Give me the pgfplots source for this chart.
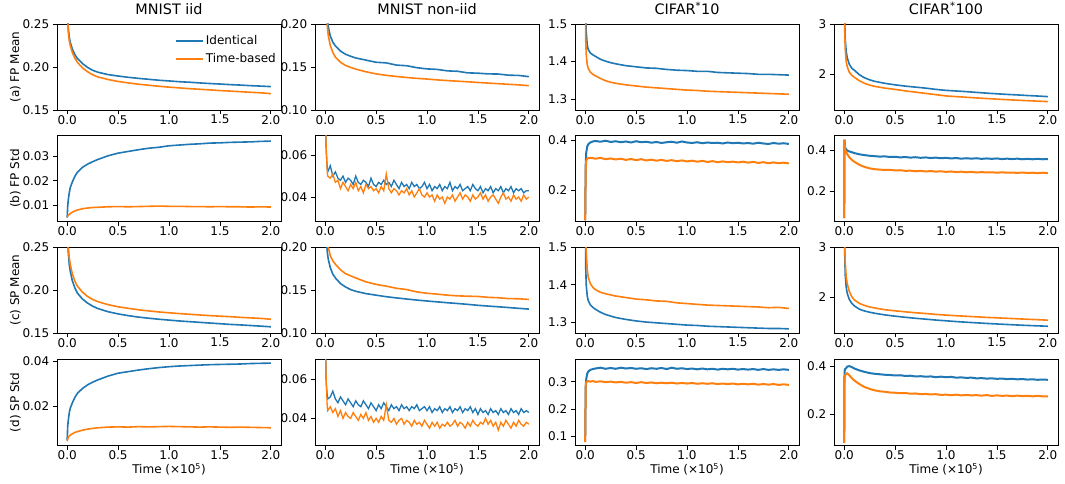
\documentclass[border=0pt]{standalone}
\usepackage{fontspec}
\setmainfont{DejaVu Sans}
\usepackage{pgfplots}
\usepackage{pgfplotstable}
\pgfplotsset{compat=1.18}
\definecolor{mblue}{HTML}{1F77B4}
\definecolor{morange}{HTML}{FF7F0E}

% ---------- Row 1: FP Mean ----------
\pgfplotstableread{
x b o
0 0.32 0.32
0.005 0.260 0.256
0.01 0.246 0.242
0.02 0.235 0.231
0.03 0.229 0.225
0.05 0.221 0.217
0.075 0.2145 0.2105
0.1 0.2100 0.2055
0.15 0.2040 0.1990
0.2 0.1995 0.1945
0.25 0.1962 0.1910
0.3 0.1940 0.1885
0.4 0.1912 0.1855
0.5 0.1895 0.1832
0.6 0.1880 0.1815
0.7 0.1868 0.1800
0.8 0.1857 0.1788
0.9 0.1846 0.1776
1.0 0.1838 0.1766
1.1 0.1829 0.1757
1.2 0.1823 0.1748
1.3 0.1815 0.1741
1.4 0.1808 0.1734
1.5 0.1802 0.1726
1.6 0.1795 0.1720
1.7 0.1790 0.1713
1.8 0.1783 0.1706
1.9 0.1778 0.1700
2.0 0.1772 0.1690
}\dataA
\pgfplotstableread{
x b o
0 0.30 0.30
0.005 0.26 0.245
0.01 0.235 0.22
0.02 0.207 0.198
0.03 0.197 0.187
0.05 0.186 0.175
0.075 0.179 0.167
0.1 0.1745 0.1615
0.15 0.1685 0.1555
0.2 0.1648 0.1518
0.25 0.1625 0.1495
0.3 0.1605 0.1475
0.4 0.1580 0.1445
0.5 0.1555 0.1420
0.6 0.1548 0.1403
0.7 0.1522 0.1390
0.8 0.1515 0.1378
0.9 0.1492 0.1368
1.0 0.1478 0.1360
1.1 0.1472 0.1350
1.2 0.1455 0.1342
1.3 0.1450 0.1335
1.4 0.1432 0.1328
1.5 0.1428 0.1320
1.6 0.1420 0.1313
1.7 0.1418 0.1306
1.8 0.1405 0.1299
1.9 0.1402 0.1292
2.0 0.1388 0.1283
}\dataB
\pgfplotstableread{
x b o
0 1.7 1.7
0.005 1.52 1.46
0.01 1.48 1.42
0.02 1.445 1.392
0.03 1.432 1.382
0.05 1.423 1.372
0.075 1.418 1.366
0.1 1.414 1.362
0.15 1.406 1.355
0.2 1.401 1.349
0.25 1.397 1.345
0.3 1.394 1.342
0.4 1.389 1.338
0.5 1.386 1.335
0.6 1.383 1.332
0.7 1.382 1.330
0.8 1.379 1.328
0.9 1.377 1.326
1.0 1.376 1.324
1.1 1.374 1.323
1.2 1.374 1.321
1.3 1.371 1.320
1.4 1.370 1.319
1.5 1.369 1.318
1.6 1.368 1.317
1.7 1.366 1.316
1.8 1.366 1.315
1.9 1.365 1.314
2.0 1.364 1.313
}\dataC
\pgfplotstableread{
x b o
0 4.0 4.0
0.005 3.1 2.9
0.01 2.7 2.5
0.02 2.45 2.25
0.03 2.33 2.15
0.05 2.20 2.04
0.075 2.12 1.98
0.1 2.08 1.94
0.15 1.99 1.87
0.2 1.93 1.82
0.25 1.89 1.785
0.3 1.86 1.76
0.4 1.82 1.725
0.5 1.79 1.70
0.6 1.765 1.670
0.7 1.745 1.645
0.8 1.725 1.620
0.9 1.700 1.595
1.0 1.680 1.570
1.1 1.668 1.556
1.2 1.655 1.543
1.3 1.640 1.530
1.4 1.625 1.518
1.5 1.612 1.506
1.6 1.600 1.495
1.7 1.590 1.485
1.8 1.578 1.475
1.9 1.568 1.466
2.0 1.556 1.457
}\dataD

% ---------- Row 2: FP Std ----------
\pgfplotstableread{
x b o
0 0.0050 0.0052
0.005 0.0095 0.0055
0.01 0.0120 0.0060
0.02 0.0150 0.0063
0.03 0.0172 0.0066
0.05 0.0195 0.0072
0.075 0.0218 0.0077
0.1 0.0235 0.0081
0.15 0.0255 0.0086
0.2 0.0268 0.0089
0.25 0.0278 0.0091
0.3 0.0287 0.0092
0.4 0.0302 0.0094
0.5 0.0313 0.0095
0.6 0.0320 0.0094
0.7 0.0327 0.0095
0.8 0.0333 0.0096
0.9 0.0337 0.0097
1.0 0.0343 0.0096
1.1 0.0346 0.0096
1.2 0.0349 0.0095
1.3 0.0351 0.0095
1.4 0.0354 0.0094
1.5 0.0355 0.0095
1.6 0.0357 0.0094
1.7 0.0358 0.0094
1.8 0.0359 0.0093
1.9 0.0361 0.0094
2.0 0.0362 0.0093
}\dataE
\pgfplotstableread{
x b o
0 0.090 0.085
0.01 0.062 0.064
0.02 0.054 0.052
0.025 0.052 0.050
0.05 0.055 0.049
0.075 0.050 0.051
0.1 0.052 0.047
0.125 0.049 0.048
0.15 0.048 0.044
0.175 0.050 0.047
0.2 0.047 0.045
0.225 0.049 0.043
0.25 0.048 0.046
0.275 0.046 0.044
0.3 0.050 0.047
0.325 0.047 0.043
0.35 0.046 0.045
0.375 0.048 0.042
0.4 0.047 0.046
0.425 0.045 0.044
0.45 0.049 0.045
0.475 0.046 0.043
0.5 0.045 0.044
0.525 0.047 0.042
0.55 0.046 0.045
0.575 0.048 0.043
0.6 0.046 0.051
0.625 0.047 0.044
0.65 0.045 0.042
0.675 0.048 0.044
0.7 0.046 0.043
0.725 0.044 0.041
0.75 0.047 0.043
0.775 0.045 0.042
0.8 0.046 0.044
0.825 0.044 0.041
0.85 0.047 0.043
0.875 0.045 0.040
0.9 0.046 0.042
0.925 0.044 0.044
0.95 0.045 0.041
0.975 0.047 0.040
1.0 0.044 0.042
1.025 0.046 0.040
1.05 0.043 0.041
1.075 0.045 0.038
1.1 0.044 0.041
1.125 0.046 0.039
1.15 0.043 0.040
1.175 0.045 0.037
1.2 0.044 0.040
1.225 0.047 0.039
1.25 0.043 0.041
1.275 0.045 0.038
1.3 0.044 0.040
1.325 0.046 0.042
1.35 0.043 0.039
1.375 0.044 0.041
1.4 0.045 0.040
1.425 0.043 0.038
1.45 0.046 0.041
1.475 0.044 0.039
1.5 0.043 0.040
1.525 0.045 0.042
1.55 0.042 0.039
1.575 0.044 0.041
1.6 0.043 0.038
1.625 0.045 0.040
1.65 0.042 0.041
1.675 0.044 0.039
1.7 0.043 0.037
1.725 0.045 0.040
1.75 0.042 0.042
1.775 0.044 0.039
1.8 0.043 0.040
1.825 0.045 0.038
1.85 0.042 0.041
1.875 0.044 0.039
1.9 0.043 0.040
1.925 0.044 0.038
1.95 0.042 0.041
1.975 0.043 0.039
2.0 0.043 0.040
}\dataF
\pgfplotstableread{
x b o
0 0.080 0.080
0.005 0.300 0.280
0.01 0.350 0.318
0.02 0.375 0.327
0.03 0.385 0.329
0.05 0.392 0.330
0.075 0.396 0.329
0.1 0.398 0.327
0.15 0.395 0.330
0.2 0.399 0.325
0.25 0.394 0.328
0.3 0.397 0.324
0.35 0.393 0.327
0.4 0.396 0.322
0.45 0.392 0.326
0.5 0.397 0.321
0.55 0.393 0.325
0.6 0.395 0.320
0.65 0.391 0.323
0.7 0.394 0.319
0.75 0.390 0.322
0.8 0.393 0.318
0.85 0.395 0.321
0.9 0.391 0.317
0.95 0.396 0.320
1.0 0.392 0.316
1.05 0.390 0.319
1.1 0.393 0.315
1.15 0.389 0.318
1.2 0.392 0.314
1.25 0.390 0.317
1.3 0.391 0.313
1.35 0.388 0.316
1.4 0.392 0.313
1.45 0.389 0.315
1.5 0.391 0.312
1.55 0.388 0.315
1.6 0.390 0.311
1.65 0.387 0.314
1.7 0.391 0.310
1.75 0.388 0.313
1.8 0.386 0.309
1.85 0.390 0.312
1.9 0.387 0.309
1.95 0.389 0.311
2.0 0.386 0.308
}\dataG
\pgfplotstableread{
x b o
0 0.070 0.070
0.003 0.450 0.450
0.006 0.430 0.420
0.01 0.410 0.400
0.02 0.402 0.390
0.03 0.398 0.380
0.05 0.393 0.365
0.075 0.389 0.352
0.1 0.385 0.343
0.15 0.379 0.328
0.2 0.375 0.318
0.25 0.372 0.311
0.3 0.370 0.307
0.35 0.368 0.305
0.4 0.369 0.303
0.45 0.366 0.304
0.5 0.367 0.301
0.55 0.364 0.302
0.6 0.366 0.299
0.65 0.363 0.300
0.7 0.365 0.297
0.75 0.362 0.299
0.8 0.364 0.296
0.85 0.361 0.298
0.9 0.363 0.295
0.95 0.360 0.297
1.0 0.362 0.294
1.05 0.359 0.296
1.1 0.361 0.293
1.15 0.358 0.295
1.2 0.360 0.292
1.25 0.358 0.294
1.3 0.360 0.291
1.35 0.357 0.293
1.4 0.359 0.291
1.45 0.357 0.292
1.5 0.359 0.290
1.55 0.356 0.292
1.6 0.358 0.290
1.65 0.356 0.291
1.7 0.358 0.289
1.75 0.355 0.291
1.8 0.357 0.289
1.85 0.355 0.290
1.9 0.357 0.288
1.95 0.355 0.290
2.0 0.356 0.288
}\dataH

% ---------- Row 3: SP Mean ----------
\pgfplotstableread{
x b o
0 0.32 0.32
0.005 0.262 0.270
0.01 0.245 0.252
0.02 0.230 0.238
0.03 0.222 0.230
0.05 0.211 0.219
0.075 0.2025 0.2105
0.1 0.1965 0.2045
0.15 0.1895 0.1975
0.2 0.1848 0.1925
0.25 0.1812 0.1890
0.3 0.1785 0.1865
0.4 0.1748 0.1830
0.5 0.1722 0.1805
0.6 0.1702 0.1787
0.7 0.1685 0.1770
0.8 0.1672 0.1757
0.9 0.1660 0.1745
1.0 0.1650 0.1735
1.1 0.1640 0.1726
1.2 0.1632 0.1718
1.3 0.1624 0.1710
1.4 0.1616 0.1702
1.5 0.1608 0.1696
1.6 0.1600 0.1690
1.7 0.1594 0.1682
1.8 0.1587 0.1676
1.9 0.1580 0.1670
2.0 0.1572 0.1660
}\dataI
\pgfplotstableread{
x b o
0 0.30 0.30
0.005 0.245 0.26
0.01 0.215 0.235
0.02 0.195 0.210
0.03 0.186 0.200
0.05 0.176 0.190
0.075 0.1685 0.184
0.1 0.1640 0.1800
0.15 0.1575 0.1735
0.2 0.1535 0.1690
0.25 0.1505 0.1665
0.3 0.1485 0.1640
0.4 0.1458 0.1595
0.5 0.1440 0.1565
0.6 0.1422 0.1545
0.7 0.1408 0.1520
0.8 0.1395 0.1505
0.9 0.1383 0.1478
1.0 0.1372 0.1462
1.1 0.1362 0.1452
1.2 0.1352 0.1440
1.3 0.1343 0.1432
1.4 0.1333 0.1428
1.5 0.1322 0.1425
1.6 0.1313 0.1415
1.7 0.1305 0.1410
1.8 0.1296 0.1400
1.9 0.1287 0.1398
2.0 0.1278 0.1390
}\dataJ
\pgfplotstableread{
x b o
0 1.7 1.7
0.005 1.45 1.55
0.01 1.40 1.49
0.02 1.37 1.44
0.03 1.358 1.42
0.05 1.347 1.403
0.075 1.340 1.393
0.1 1.335 1.387
0.15 1.327 1.380
0.2 1.321 1.376
0.25 1.317 1.373
0.3 1.313 1.370
0.4 1.308 1.366
0.5 1.304 1.362
0.6 1.301 1.360
0.7 1.299 1.357
0.8 1.297 1.356
0.9 1.295 1.352
1.0 1.293 1.350
1.1 1.292 1.348
1.2 1.290 1.346
1.3 1.289 1.345
1.4 1.288 1.344
1.5 1.287 1.343
1.6 1.286 1.342
1.7 1.285 1.341
1.8 1.284 1.339
1.9 1.284 1.340
2.0 1.283 1.337
}\dataK
\pgfplotstableread{
x b o
0 4.0 4.0
0.005 2.9 3.1
0.01 2.45 2.7
0.02 2.20 2.40
0.03 2.08 2.27
0.05 1.96 2.12
0.075 1.88 2.01
0.1 1.83 1.95
0.15 1.765 1.88
0.2 1.73 1.84
0.25 1.705 1.81
0.3 1.685 1.79
0.4 1.652 1.755
0.5 1.627 1.733
0.6 1.605 1.713
0.7 1.585 1.695
0.8 1.568 1.680
0.9 1.550 1.662
1.0 1.535 1.648
1.1 1.520 1.636
1.2 1.507 1.625
1.3 1.495 1.614
1.4 1.483 1.603
1.5 1.472 1.594
1.6 1.462 1.585
1.7 1.452 1.575
1.8 1.443 1.566
1.9 1.435 1.557
2.0 1.427 1.548
}\dataL

% ---------- Row 4: SP Std ----------
\pgfplotstableread{
x b o
0 0.0050 0.0045
0.005 0.0110 0.0055
0.01 0.0135 0.0062
0.02 0.0170 0.0068
0.03 0.0192 0.0072
0.05 0.0215 0.0078
0.075 0.0240 0.0084
0.1 0.0258 0.0088
0.15 0.0280 0.0094
0.2 0.0296 0.0099
0.25 0.0308 0.0102
0.3 0.0318 0.0105
0.4 0.0335 0.0108
0.5 0.0348 0.0109
0.6 0.0355 0.0108
0.7 0.0362 0.0110
0.8 0.0368 0.0109
0.9 0.0373 0.0110
1.0 0.0377 0.0111
1.1 0.0380 0.0110
1.2 0.0382 0.0109
1.3 0.0384 0.0108
1.4 0.0386 0.0109
1.5 0.0387 0.0108
1.6 0.0388 0.0107
1.7 0.0389 0.0108
1.8 0.0391 0.0107
1.9 0.0392 0.0106
2.0 0.0393 0.0105
}\dataM
\pgfplotstableread{
x b o
0 0.090 0.085
0.01 0.058 0.060
0.02 0.052 0.046
0.025 0.050 0.044
0.05 0.051 0.046
0.075 0.054 0.043
0.1 0.050 0.045
0.125 0.048 0.041
0.15 0.051 0.044
0.175 0.049 0.040
0.2 0.047 0.043
0.225 0.050 0.041
0.25 0.048 0.040
0.275 0.046 0.043
0.3 0.049 0.041
0.325 0.047 0.039
0.35 0.046 0.042
0.375 0.049 0.040
0.4 0.047 0.043
0.425 0.045 0.039
0.45 0.048 0.041
0.475 0.046 0.038
0.5 0.044 0.040
0.525 0.047 0.038
0.55 0.045 0.041
0.575 0.048 0.039
0.6 0.046 0.047
0.625 0.044 0.039
0.65 0.047 0.038
0.675 0.045 0.040
0.7 0.046 0.037
0.725 0.044 0.039
0.75 0.047 0.040
0.775 0.045 0.037
0.8 0.046 0.039
0.825 0.044 0.038
0.85 0.046 0.036
0.875 0.045 0.039
0.9 0.047 0.037
0.925 0.044 0.038
0.95 0.045 0.036
0.975 0.046 0.039
1.0 0.044 0.037
1.025 0.046 0.035
1.05 0.043 0.038
1.075 0.045 0.036
1.1 0.044 0.038
1.125 0.046 0.035
1.15 0.043 0.037
1.175 0.045 0.036
1.2 0.044 0.038
1.225 0.046 0.036
1.25 0.043 0.037
1.275 0.045 0.039
1.3 0.044 0.036
1.325 0.046 0.038
1.35 0.043 0.037
1.375 0.045 0.035
1.4 0.044 0.038
1.425 0.046 0.036
1.45 0.043 0.039
1.475 0.045 0.037
1.5 0.042 0.036
1.525 0.045 0.038
1.55 0.043 0.037
1.575 0.044 0.040
1.6 0.042 0.037
1.625 0.045 0.039
1.65 0.043 0.036
1.675 0.044 0.038
1.7 0.042 0.034
1.725 0.045 0.038
1.75 0.043 0.036
1.775 0.044 0.039
1.8 0.042 0.037
1.825 0.045 0.035
1.85 0.043 0.038
1.875 0.044 0.036
1.9 0.042 0.039
1.925 0.045 0.037
1.95 0.043 0.036
1.975 0.044 0.038
2.0 0.043 0.037
}\dataN
\pgfplotstableread{
x b o
0 0.080 0.080
0.005 0.280 0.285
0.01 0.310 0.298
0.02 0.330 0.302
0.03 0.338 0.303
0.05 0.344 0.301
0.075 0.347 0.303
0.1 0.349 0.300
0.15 0.352 0.302
0.2 0.348 0.299
0.25 0.351 0.301
0.3 0.348 0.298
0.35 0.352 0.300
0.4 0.349 0.297
0.45 0.351 0.299
0.5 0.348 0.296
0.55 0.350 0.299
0.6 0.347 0.296
0.65 0.350 0.298
0.7 0.348 0.295
0.75 0.351 0.297
0.8 0.347 0.295
0.85 0.352 0.297
0.9 0.348 0.294
0.95 0.350 0.296
1.0 0.347 0.294
1.05 0.349 0.296
1.1 0.346 0.293
1.15 0.349 0.295
1.2 0.346 0.293
1.25 0.348 0.295
1.3 0.345 0.292
1.35 0.348 0.294
1.4 0.346 0.292
1.45 0.348 0.294
1.5 0.345 0.291
1.55 0.347 0.293
1.6 0.345 0.291
1.65 0.347 0.293
1.7 0.344 0.290
1.75 0.347 0.292
1.8 0.344 0.290
1.85 0.346 0.292
1.9 0.344 0.289
1.95 0.346 0.291
2.0 0.344 0.289
}\dataO
\pgfplotstableread{
x b o
0 0.080 0.080
0.003 0.360 0.330
0.006 0.385 0.355
0.01 0.388 0.362
0.02 0.392 0.368
0.03 0.398 0.370
0.05 0.400 0.362
0.075 0.396 0.350
0.1 0.390 0.340
0.15 0.382 0.325
0.2 0.376 0.313
0.25 0.371 0.305
0.3 0.368 0.299
0.35 0.366 0.295
0.4 0.364 0.293
0.45 0.363 0.290
0.5 0.361 0.289
0.55 0.362 0.287
0.6 0.359 0.288
0.65 0.360 0.285
0.7 0.357 0.286
0.75 0.358 0.283
0.8 0.356 0.284
0.85 0.357 0.282
0.9 0.354 0.283
0.95 0.356 0.280
1.0 0.354 0.281
1.05 0.355 0.279
1.1 0.352 0.281
1.15 0.353 0.278
1.2 0.351 0.280
1.25 0.352 0.278
1.3 0.349 0.279
1.35 0.350 0.277
1.4 0.348 0.279
1.45 0.349 0.276
1.5 0.347 0.278
1.55 0.348 0.276
1.6 0.346 0.277
1.65 0.347 0.275
1.7 0.345 0.277
1.75 0.346 0.275
1.8 0.344 0.276
1.85 0.345 0.274
1.9 0.343 0.276
1.95 0.344 0.274
2.0 0.343 0.274
}\dataP

\pgfplotsset{
  cell/.style={
    scale only axis, width=224pt, height=86pt, anchor=north west,
    xmin=-0.1, xmax=2.1, scaled ticks=false,
    xtick={0,0.5,1,1.5,2}, xticklabels={0.0,0.5,1.0,1.5,2.0},
    tick pos=left, tick align=outside, major tick length=4.2pt,
    every tick/.style={black, line width=0.8pt},
    axis line style={line width=0.8pt},
    tick label style={font=\fontsize{12}{14}\selectfont},
    xticklabel style={yshift=2.5pt},
    xlabel style={font=\fontsize{12}{14}\selectfont, yshift=3pt},
    ylabel style={font=\fontsize{12}{14}\selectfont},
    ylabel shift=-5pt,
    title style={font=\fontsize{14.4}{16}\selectfont},
    /pgf/number format/assume math mode=true,
  },
  bl/.style={color=mblue, line width=1.6pt},
  or/.style={color=morange, line width=1.6pt},
  thick noisy/.style={line width=2.0pt},
}

\begin{document}
\begin{tikzpicture}
\path[use as bounding box] (0pt,0pt) rectangle (1065pt,-484pt);

% Row 1
\begin{axis}[cell, at={(57pt,-24pt)}, ymin=0.15, ymax=0.25,
  ytick={0.15,0.2,0.25}, yticklabels={0.15,0.20,0.25},
  title={MNIST iid}, ylabel={(a) FP Mean},
  legend style={draw=none, fill=none, at={(1.0,0.915)}, anchor=north east,
    font=\fontsize{12}{14}\selectfont, row sep=3.4pt},
  legend cell align=left,
  legend image code/.code={\draw[#1, line width=1.7pt] (0pt,0pt) -- (27pt,0pt);}]
\addplot[bl] table[x=x,y=b] {\dataA};
\addplot[or] table[x=x,y=o] {\dataA};
\legend{Identical, Time-based}
\end{axis}
\begin{axis}[cell, at={(315pt,-24pt)}, ymin=0.10, ymax=0.20,
  ytick={0.1,0.15,0.2}, yticklabels={0.10,0.15,0.20}, title={MNIST non-iid}]
\addplot[bl] table[x=x,y=b] {\dataB};
\addplot[or] table[x=x,y=o] {\dataB};
\end{axis}
\begin{axis}[cell, at={(575pt,-24pt)}, ymin=1.271, ymax=1.5,
  ytick={1.3,1.4,1.5}, yticklabels={1.3,1.4,1.5}, title={CIFAR\textsuperscript{*}10}]
\addplot[bl] table[x=x,y=b] {\dataC};
\addplot[or] table[x=x,y=o] {\dataC};
\end{axis}
\begin{axis}[cell, at={(834pt,-24pt)}, ymin=1.29, ymax=3,
  ytick={2,3}, yticklabels={2,3}, title={CIFAR\textsuperscript{*}100}]
\addplot[bl] table[x=x,y=b] {\dataD};
\addplot[or] table[x=x,y=o] {\dataD};
\end{axis}

% Row 2
\begin{axis}[cell, at={(57pt,-135.5pt)}, ymin=0.0034, ymax=0.0385,
  ytick={0.01,0.02,0.03}, yticklabels={0.01,0.02,0.03}, ylabel={(b) FP Std}]
\addplot[bl] table[x=x,y=b] {\dataE};
\addplot[or] table[x=x,y=o] {\dataE};
\end{axis}
\begin{axis}[cell, at={(315pt,-135.5pt)}, ymin=0.0283, ymax=0.0694,
  ytick={0.04,0.06}, yticklabels={0.04,0.06}]
\addplot[bl, line width=1.3pt] table[x=x,y=b] {\dataF};
\addplot[or, line width=1.3pt] table[x=x,y=o] {\dataF};
\end{axis}
\begin{axis}[cell, at={(575pt,-135.5pt)}, ymin=0.075, ymax=0.42,
  ytick={0.2,0.4}, yticklabels={0.2,0.4}]
\addplot[bl, thick noisy] table[x=x,y=b] {\dataG};
\addplot[or, thick noisy] table[x=x,y=o] {\dataG};
\end{axis}
\begin{axis}[cell, at={(834pt,-135.5pt)}, ymin=0.054, ymax=0.47,
  ytick={0.2,0.4}, yticklabels={0.2,0.4}]
\addplot[bl, thick noisy] table[x=x,y=b] {\dataH};
\addplot[or, thick noisy] table[x=x,y=o] {\dataH};
\end{axis}

% Row 3
\begin{axis}[cell, at={(57pt,-247pt)}, ymin=0.15, ymax=0.25,
  ytick={0.15,0.2,0.25}, yticklabels={0.15,0.20,0.25}, ylabel={(c) SP Mean}]
\addplot[bl] table[x=x,y=b] {\dataI};
\addplot[or] table[x=x,y=o] {\dataI};
\end{axis}
\begin{axis}[cell, at={(315pt,-247pt)}, ymin=0.10, ymax=0.20,
  ytick={0.1,0.15,0.2}, yticklabels={0.10,0.15,0.20}]
\addplot[bl] table[x=x,y=b] {\dataJ};
\addplot[or] table[x=x,y=o] {\dataJ};
\end{axis}
\begin{axis}[cell, at={(575pt,-247pt)}, ymin=1.272, ymax=1.5,
  ytick={1.3,1.4,1.5}, yticklabels={1.3,1.4,1.5}]
\addplot[bl] table[x=x,y=b] {\dataK};
\addplot[or] table[x=x,y=o] {\dataK};
\end{axis}
\begin{axis}[cell, at={(834pt,-247pt)}, ymin=1.293, ymax=3,
  ytick={2,3}, yticklabels={2,3}]
\addplot[bl] table[x=x,y=b] {\dataL};
\addplot[or] table[x=x,y=o] {\dataL};
\end{axis}

% Row 4
\begin{axis}[cell, at={(57pt,-359.5pt)}, ymin=0.0026, ymax=0.0409,
  ytick={0.02,0.04}, yticklabels={0.02,0.04}, ylabel={(d) SP Std},
  xlabel={Time (×10\textsuperscript{5})}]
\addplot[bl] table[x=x,y=b] {\dataM};
\addplot[or] table[x=x,y=o] {\dataM};
\end{axis}
\begin{axis}[cell, at={(315pt,-359.5pt)}, ymin=0.0261, ymax=0.0702,
  ytick={0.04,0.06}, yticklabels={0.04,0.06},
  xlabel={Time (×10\textsuperscript{5})}]
\addplot[bl, line width=1.3pt] table[x=x,y=b] {\dataN};
\addplot[or, line width=1.3pt] table[x=x,y=o] {\dataN};
\end{axis}
\begin{axis}[cell, at={(575pt,-359.5pt)}, ymin=0.067, ymax=0.382,
  ytick={0.1,0.2,0.3}, yticklabels={0.1,0.2,0.3},
  xlabel={Time (×10\textsuperscript{5})}]
\addplot[bl, thick noisy] table[x=x,y=b] {\dataO};
\addplot[or, thick noisy] table[x=x,y=o] {\dataO};
\end{axis}
\begin{axis}[cell, at={(834pt,-359.5pt)}, ymin=0.069, ymax=0.4276,
  ytick={0.2,0.4}, yticklabels={0.2,0.4},
  xlabel={Time (×10\textsuperscript{5})}]
\addplot[bl, thick noisy] table[x=x,y=b] {\dataP};
\addplot[or, thick noisy] table[x=x,y=o] {\dataP};
\end{axis}
\end{tikzpicture}
\end{document}
